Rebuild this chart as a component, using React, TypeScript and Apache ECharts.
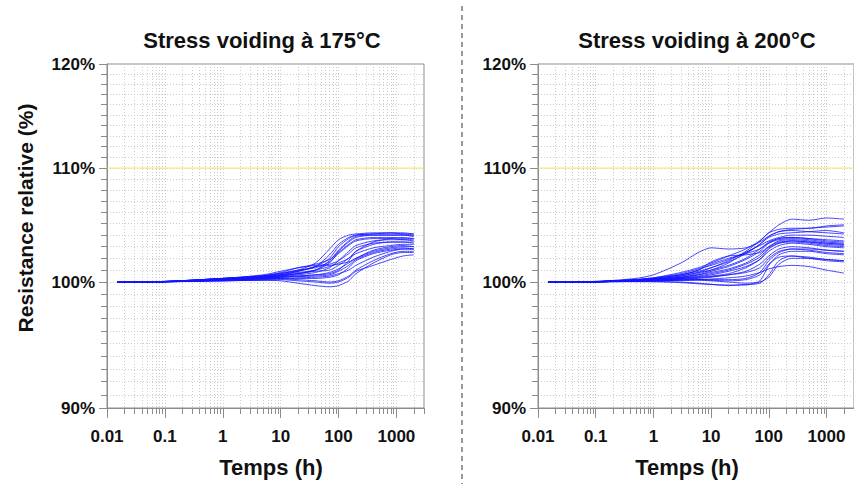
import React, { useEffect, useRef } from "react";
import * as echarts from "echarts";

// ---------- data ----------
const titles = ["Stress voiding à 175°C", "Stress voiding à 200°C"];
const yAxisName = "Resistance relative (%)";
const xAxisName = "Temps (h)";

const xMin = 0.01;
const xMax = 3000;
const yMin = 90;
const yMax = 120;
const limitLine = 110;

const xMajorTicks = [0.01, 0.1, 1, 10, 100, 1000];
const xMinorMultipliers = [2, 3, 4, 5, 6, 7, 8, 9];
const yMajorTicks = [90, 100, 110, 120];
const yMinorTicks = [
  91, 92, 93, 94, 95, 96, 97, 98, 99, 101, 102, 103, 104, 105, 106, 107, 108, 109,
  111, 112, 113, 114, 115, 116, 117, 118, 119,
];

// Stress voiding 175°C : time (h) and relative resistance (%)
const hours175 = [0.015, 0.1, 1, 5, 10, 20, 40, 70, 100, 150, 200, 400, 800, 1300, 2000];
const curves175 = [
  [100, 100.05, 100.3, 100.5, 100.7, 101.0, 101.6, 102.8, 103.6, 104.0, 104.1, 104.2, 104.2, 104.2, 104.1],
  [100, 100.05, 100.25, 100.45, 100.6, 100.9, 101.3, 102.3, 103.2, 103.8, 104.0, 104.1, 104.2, 104.1, 104.1],
  [100, 100.04, 100.2, 100.4, 100.5, 100.7, 101.0, 101.8, 102.7, 103.5, 103.9, 104.0, 104.0, 104.0, 103.9],
  [100, 100.05, 100.3, 100.5, 100.8, 101.2, 101.5, 101.9, 102.5, 103.2, 103.6, 103.8, 103.8, 103.7, 103.7],
  [100, 100.03, 100.2, 100.35, 100.45, 100.6, 100.8, 101.2, 101.8, 102.6, 103.1, 103.5, 103.6, 103.6, 103.5],
  [100, 100.04, 100.25, 100.4, 100.55, 100.7, 100.9, 101.0, 101.4, 102.0, 102.6, 103.2, 103.4, 103.4, 103.3],
  [100, 100.03, 100.2, 100.3, 100.4, 100.5, 100.6, 100.8, 101.1, 101.6, 102.0, 102.7, 103.0, 103.1, 103.0],
  [100, 100.02, 100.15, 100.25, 100.3, 100.35, 100.4, 100.5, 100.7, 101.0, 101.4, 102.1, 102.6, 102.8, 102.8],
  [100, 100.02, 100.1, 100.2, 100.25, 100.2, 100.1, 100.0, 100.1, 100.5, 101.0, 101.8, 102.4, 102.6, 102.6],
  [100, 100.02, 100.1, 100.15, 100.1, 99.9, 99.7, 99.6, 99.7, 100.1, 100.7, 101.6, 102.3, 102.5, 102.5],
  [100, 100.03, 100.2, 100.4, 100.6, 100.9, 101.3, 101.4, 101.5, 101.7, 102.0, 102.6, 102.9, 103.0, 103.0],
  [100, 100.04, 100.3, 100.6, 100.9, 101.2, 101.4, 101.5, 101.8, 102.4, 102.9, 103.3, 103.4, 103.4, 103.4],
  [100, 100.03, 100.25, 100.45, 100.6, 100.8, 101.0, 101.6, 102.6, 103.4, 103.8, 104.0, 104.0, 104.0, 103.9],
  [100, 100.02, 100.15, 100.3, 100.4, 100.5, 100.6, 100.7, 101.0, 101.8, 102.6, 103.4, 103.7, 103.8, 103.7],
  [100, 100.02, 100.15, 100.25, 100.3, 100.3, 100.3, 100.4, 100.6, 101.2, 101.8, 102.4, 102.7, 102.8, 102.8],
  [100, 100.03, 100.2, 100.3, 100.4, 100.45, 100.5, 100.6, 100.9, 101.4, 101.9, 102.5, 102.8, 102.9, 102.8],
  [100, 100.04, 100.3, 100.55, 100.75, 101.0, 101.2, 101.7, 102.4, 103.1, 103.5, 103.7, 103.7, 103.6, 103.6],
  [100, 100.02, 100.1, 100.15, 100.2, 100.1, 100.0, 99.9, 100.0, 100.4, 100.9, 101.4, 101.9, 102.2, 102.3],
  [100, 100.03, 100.2, 100.35, 100.5, 100.7, 101.0, 101.3, 101.6, 102.0, 102.4, 102.9, 103.1, 103.2, 103.2],
  [100, 100.05, 100.3, 100.5, 100.7, 100.95, 101.3, 102.0, 103.0, 103.7, 104.0, 104.1, 104.1, 104.1, 104.0],
];

// Stress voiding 200°C : time (h) and relative resistance (%)
const hours200 = [0.015, 0.1, 0.5, 1, 3, 6, 10, 20, 40, 70, 100, 150, 250, 500, 1000, 2000];
const curves200 = [
  [100, 100.05, 100.2, 100.35, 100.8, 101.2, 101.6, 102.2, 102.8, 103.5, 104.2, 104.9, 105.4, 105.3, 105.5, 105.4],
  [100, 100.05, 100.3, 100.6, 101.6, 102.5, 102.9, 102.8, 102.9, 103.4, 103.9, 104.3, 104.5, 104.6, 104.7, 104.8],
  [100, 100.04, 100.2, 100.3, 100.6, 100.9, 101.2, 101.7, 102.4, 103.2, 103.8, 104.1, 104.2, 104.3, 104.4, 104.2],
  [100, 100.03, 100.15, 100.25, 100.5, 100.8, 101.0, 101.4, 102.0, 102.8, 103.4, 103.7, 103.8, 103.7, 103.6, 103.5],
  [100, 100.03, 100.15, 100.2, 100.4, 100.6, 100.8, 101.1, 101.6, 102.3, 103.0, 103.4, 103.5, 103.4, 103.2, 103.1],
  [100, 100.02, 100.1, 100.15, 100.3, 100.45, 100.6, 100.9, 101.3, 101.9, 102.6, 103.1, 103.3, 103.2, 103.0, 102.9],
  [100, 100.02, 100.1, 100.15, 100.25, 100.3, 100.4, 100.6, 100.9, 101.5, 102.2, 102.8, 103.0, 102.9, 102.7, 102.6],
  [100, 100.02, 100.08, 100.1, 100.15, 100.2, 100.2, 100.2, 100.3, 100.8, 101.8, 102.5, 102.8, 102.7, 102.5, 102.4],
  [100, 100.01, 100.05, 100.05, 100.0, 99.9, 99.8, 99.75, 99.75, 100.1, 101.4, 102.3, 102.6, 102.6, 102.4, 102.3],
  [100, 100.01, 100.03, 100.02, 99.95, 99.85, 99.8, 99.7, 99.8, 99.9, 100.6, 101.8, 102.2, 102.1, 101.9, 101.8],
  [100, 100.02, 100.08, 100.1, 100.15, 100.2, 100.25, 100.35, 100.5, 100.8, 101.1, 101.3, 101.4, 101.3, 101.0, 100.75],
  [100, 100.02, 100.1, 100.2, 100.4, 100.7, 101.0, 101.6, 102.5, 103.1, 103.5, 103.8, 104.0, 104.0, 103.9, 103.8],
  [100, 100.03, 100.2, 100.3, 100.6, 101.0, 101.5, 102.0, 102.4, 102.8, 103.3, 103.6, 103.7, 103.6, 103.4, 103.3],
  [100, 100.02, 100.1, 100.15, 100.2, 100.2, 100.15, 100.1, 100.2, 100.6, 101.5, 102.1, 102.2, 102.0, 101.8, 101.7],
  [100, 100.03, 100.15, 100.25, 100.5, 100.8, 101.2, 101.8, 102.6, 103.5, 104.2, 104.5, 104.6, 104.6, 104.8, 104.9],
  [100, 100.02, 100.1, 100.2, 100.35, 100.5, 100.7, 101.0, 101.5, 102.1, 102.9, 103.3, 103.4, 103.3, 103.1, 103.0],
  [100, 100.03, 100.15, 100.3, 100.6, 101.0, 101.7, 102.2, 102.3, 102.5, 103.0, 103.5, 103.6, 103.5, 103.3, 103.2],
  [100, 100.02, 100.08, 100.1, 100.15, 100.15, 100.1, 100.0, 99.9, 100.0, 100.4, 101.5, 102.0, 102.0, 101.9, 101.8],
  [100, 100.02, 100.1, 100.2, 100.3, 100.4, 100.5, 100.7, 101.2, 101.9, 102.8, 103.3, 103.5, 103.4, 103.3, 103.2],
  [100, 100.03, 100.2, 100.35, 100.7, 101.1, 101.4, 101.9, 102.5, 103.2, 103.9, 104.3, 104.4, 104.3, 104.2, 104.1],
  [100, 100.02, 100.1, 100.15, 100.25, 100.35, 100.45, 100.6, 100.8, 101.2, 102.0, 102.6, 102.8, 102.8, 102.7, 102.6],
  [100, 100.02, 100.12, 100.2, 100.4, 100.6, 100.9, 101.3, 101.9, 102.6, 103.3, 103.7, 103.8, 103.7, 103.5, 103.4],
];

// ---------- helpers ----------
const lg = (v: number) => Math.log10(v);
const FONT = '"Liberation Sans", Arial, sans-serif';
const TEXT_COLOR = "#111";
const AXIS_COLOR = "#8c8c8c";
const GRID_LINE = { color: "#cccccc", width: 1, type: [1, 2] as any };

const xMinorTicks: number[] = [];
xMajorTicks.forEach((d) => xMinorMultipliers.forEach((m) => {
  const v = d * m;
  if (v <= xMax + 1e-9) xMinorTicks.push(v);
}));

const fmtX = (v: number) => {
  const t = xMajorTicks.find((x) => Math.abs(lg(x) - v) < 1e-6);
  return t === undefined ? "" : String(t);
};
const fmtY = (v: number) => Math.round(Math.pow(10, v)) + "%";

const grids = [
  { left: 107, top: 64, width: 317, height: 344 },
  { left: 538, top: 64, width: 319, height: 344 },
];

function buildOption() {
  const xAxis: any[] = [];
  const yAxis: any[] = [];
  const series: any[] = [];

  grids.forEach((_, g) => {
    xAxis.push({
      type: "value", gridIndex: g, position: "bottom", min: lg(xMin), max: lg(xMax),
      axisLine: { show: true, onZero: false, lineStyle: { color: AXIS_COLOR, width: 1 } },
      axisTick: { show: true, length: 10, customValues: xMajorTicks.map(lg), lineStyle: { color: AXIS_COLOR } },
      axisLabel: {
        show: true, customValues: xMajorTicks.map(lg), formatter: fmtX, margin: 20,
        fontSize: 17, fontWeight: "bold", fontFamily: FONT, color: TEXT_COLOR,
      },
      splitLine: { show: true, lineStyle: GRID_LINE },
    });
    xAxis.push({
      type: "value", gridIndex: g, position: "bottom", min: lg(xMin), max: lg(xMax),
      axisLine: { show: false, onZero: false },
      axisTick: { show: true, length: 6, customValues: xMinorTicks.map(lg), lineStyle: { color: AXIS_COLOR } },
      axisLabel: { show: false },
      splitLine: { show: true, lineStyle: GRID_LINE },
    });
    yAxis.push({
      type: "value", gridIndex: g, position: "left", min: lg(yMin), max: lg(yMax),
      axisLine: { show: true, onZero: false, lineStyle: { color: AXIS_COLOR, width: 1 } },
      axisTick: { show: true, length: 8, customValues: yMajorTicks.map(lg), lineStyle: { color: AXIS_COLOR } },
      axisLabel: {
        show: true, customValues: yMajorTicks.map(lg), formatter: fmtY, margin: 12,
        fontSize: 17, fontWeight: "bold", fontFamily: FONT, color: TEXT_COLOR,
      },
      splitLine: { show: true, lineStyle: GRID_LINE },
    });
    yAxis.push({
      type: "value", gridIndex: g, position: "left", min: lg(yMin), max: lg(yMax),
      axisLine: { show: false, onZero: false },
      axisTick: { show: true, length: 6, customValues: yMinorTicks.map(lg), lineStyle: { color: AXIS_COLOR } },
      axisLabel: { show: false },
      splitLine: { show: true, lineStyle: GRID_LINE },
    });

    const hours = g === 0 ? hours175 : hours200;
    const curves = g === 0 ? curves175 : curves200;

    // 110% limit line
    series.push({
      type: "line", xAxisIndex: g * 2, yAxisIndex: g * 2, silent: true, showSymbol: false,
      lineStyle: { color: "#ecea5a", width: 1 },
      data: [[lg(xMin), lg(limitLine)], [lg(xMax), lg(limitLine)]],
    });

    curves.forEach((vals) => {
      series.push({
        type: "line", xAxisIndex: g * 2, yAxisIndex: g * 2, silent: true,
        showSymbol: false, smooth: 0.25,
        lineStyle: { color: "#1414ff", width: 1, opacity: 0.78 },
        data: hours.map((h, i) => [lg(h), lg(vals[i])]),
      });
    });
  });

  const textStyle = (size: number) => ({
    fontSize: size, fontWeight: "bold", fontFamily: FONT, fill: TEXT_COLOR,
    align: "center", verticalAlign: "middle",
  });

  return {
    animation: false,
    backgroundColor: "#fff",
    grid: grids.map((r) => ({
      ...r, show: true, borderColor: AXIS_COLOR, borderWidth: 1, backgroundColor: "transparent",
      containLabel: false,
    })),
    xAxis, yAxis, series,
    graphic: [
      { type: "text", x: 262, y: 40, style: { text: titles[0], ...textStyle(22) } },
      { type: "text", x: 697, y: 40, style: { text: titles[1], ...textStyle(22) } },
      { type: "text", x: 271, y: 467, style: { text: xAxisName, ...textStyle(22) } },
      { type: "text", x: 687, y: 467, style: { text: xAxisName, ...textStyle(22) } },
      { type: "text", x: 25, y: 218, rotation: Math.PI / 2, style: { text: yAxisName, ...textStyle(21) } },
      {
        type: "line", shape: { x1: 462, y1: 6, x2: 462, y2: 484 },
        style: { stroke: "#333", lineWidth: 1, lineDash: [5, 4] },
      },
    ],
  };
}

export default function App() {
  const ref = useRef<HTMLDivElement>(null);
  useEffect(() => {
    if (!ref.current) return;
    const chart = echarts.init(ref.current, undefined, { renderer: "svg" });
    chart.setOption(buildOption() as any);
    return () => chart.dispose();
  }, []);
  return (
    <div
      ref={ref}
      style={{ position: "fixed", left: 0, top: 0, width: 854, height: 484, background: "#fff" }}
    />
  );
}
